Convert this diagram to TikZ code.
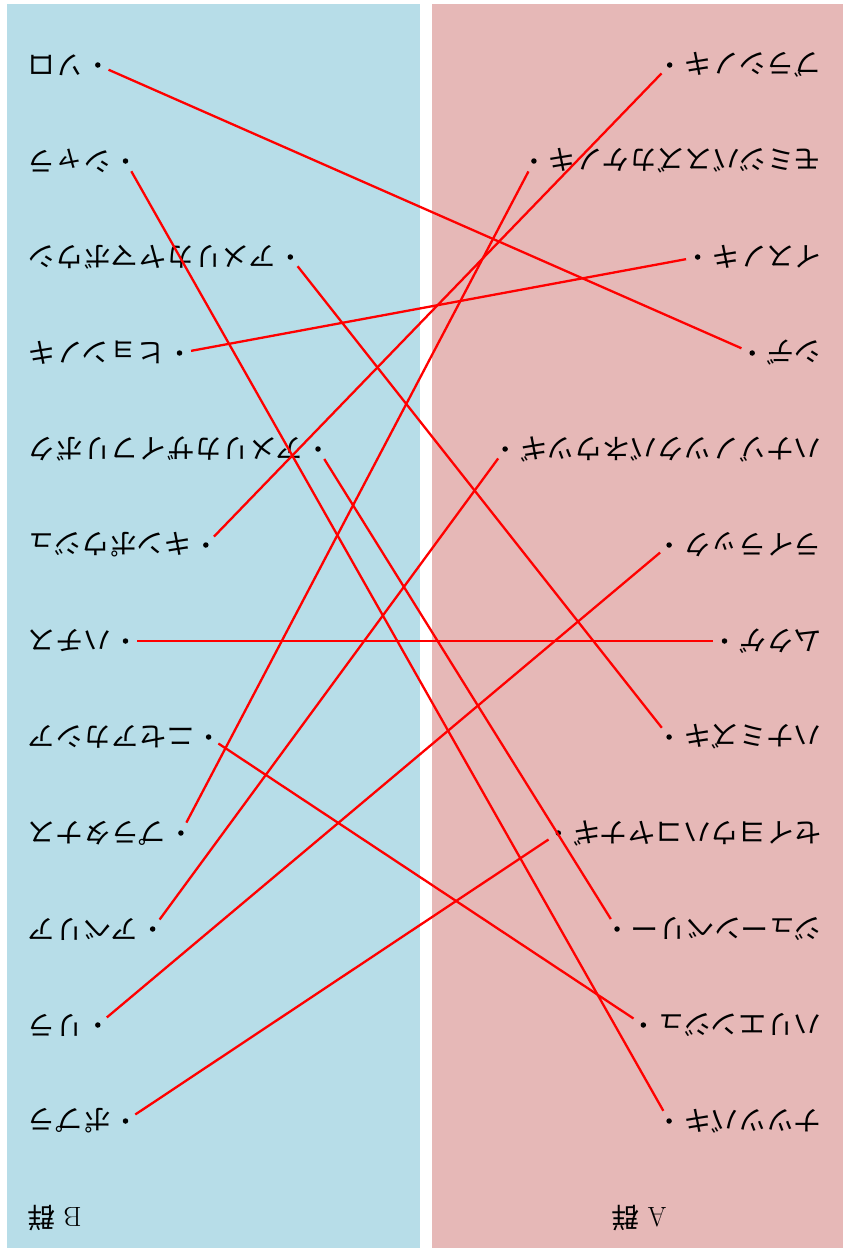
\documentclass[tikz,border=0pt]{standalone}
\usepackage{fontspec}
\newfontfamily\jpfont{Noto Sans CJK JP}
\usepackage{xcolor}
\usepackage{tikz}
\definecolor{groupa}{HTML}{E6B8B7}
\definecolor{groupb}{HTML}{B7DDE8}

\begin{document}
\begin{tikzpicture}[x=1pt, y=-1pt,
    entry/.style={rotate=180, inner sep=0pt, font=\jpfont\fontsize{27.7}{30}\selectfont},
    grouplabel/.style={rotate=180, inner sep=0pt, font=\fontsize{27.7}{30}\selectfont},
    dotmark/.style={circle, fill=black, minimum size=5.5pt, inner sep=0pt, outer sep=9pt},
    link/.style={red, line width=2.3pt}]
    \useasboundingbox (0,0) rectangle (843,1248);
    % 背景
    \fill[groupb] (7,4) rectangle (420,1248);
    \fill[groupa] (432,4) rectangle (843,1248);

    % A群
    \foreach \t [count=\k from 0] in {ブラシノキ, モミジバスズカケノキ, イスノキ, シデ,
        ハナゾノツクバネウツギ, ライラック, ムクゲ, ハナミズキ, セイヨウハコヤナギ,
        ジューンベリー, ハリエンジュ, ナツツバキ} {
        \node[entry, anchor=west] (a\k) at (822, 65+96*\k) {\t};
        \node[dotmark] (pa\k) at ([xshift=-14pt]a\k.east) {};
    }
    % B群
    \foreach \t [count=\k from 0] in {ソロ, シャラ, アメリカヤマボウシ, ヒョンノキ,
        アメリカザイフリボク, キンポウジュ, ハチス, ニセアカシア, プラタナス,
        アベリア, リラ, ポプラ} {
        \node[entry, anchor=east] (b\k) at (28, 65+96*\k) {\t};
        \node[dotmark] (pb\k) at ([xshift=14pt]b\k.west) {};
    }
    \node[grouplabel] (ga) at (639, 1218) {A {\jpfont 群}};
    \node[grouplabel] (gb) at (54.5, 1218) {B {\jpfont 群}};

    % 対応
    \foreach \i/\j in {0/3, 1/11, 2/7, 3/2, 4/9, 5/0, 6/6, 7/10, 8/1, 9/4, 10/5, 11/8} {
        \draw[link] (pb\i) -- (pa\j);
    }
\end{tikzpicture}
\end{document}
